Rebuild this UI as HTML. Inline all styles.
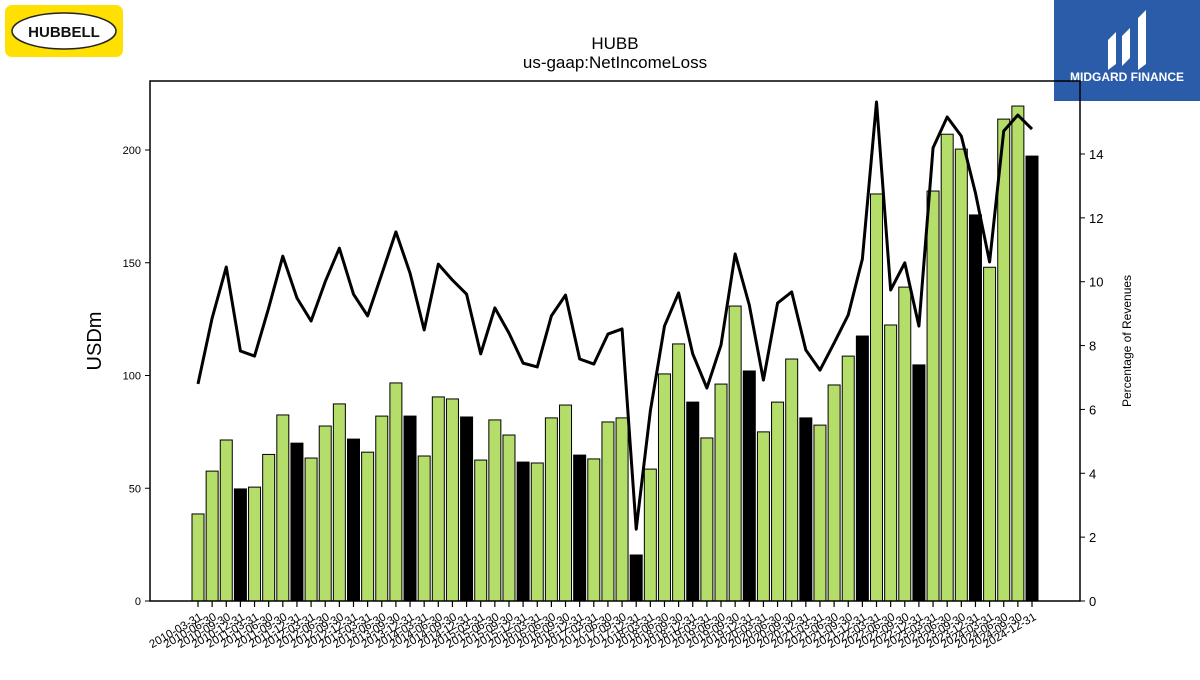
<!DOCTYPE html>
<html><head><meta charset="utf-8"><style>
body{margin:0;background:#fff;width:1200px;height:675px;overflow:hidden;font-family:"Liberation Sans","DejaVu Sans",sans-serif}
</style></head><body>
<svg id="chart" width="1200" height="675" xmlns="http://www.w3.org/2000/svg" font-family="Liberation Sans, DejaVu Sans, sans-serif">
<g>
<rect x="5" y="5" width="118" height="52" rx="7" fill="#ffe000"/>
<ellipse cx="64" cy="31" rx="52" ry="18" fill="#fff" stroke="#222" stroke-width="1.5"/>
<text x="64" y="37" text-anchor="middle" font-size="15" font-weight="bold" fill="#111">HUBBELL</text>
</g>
<g>
<rect x="1054" y="0" width="146" height="101" fill="#2a5caa"/>
<path d="M1108 70 L1108 40 L1116 32 L1116 64 Z M1122 66 L1122 36 L1130 28 L1130 58 Z M1138 70 L1138 18 L1146 10 L1146 64 Z" fill="#fff"/>
<text x="1127" y="81" text-anchor="middle" font-size="12" font-weight="bold" fill="#fff">MIDGARD FINANCE</text>
</g>
<text x="615" y="49" text-anchor="middle" font-size="17">HUBB</text>
<text x="615" y="68" text-anchor="middle" font-size="17">us-gaap:NetIncomeLoss</text>
<text transform="translate(101,341) rotate(-90)" text-anchor="middle" font-size="20">USDm</text>
<text transform="translate(1131,341) rotate(-90)" text-anchor="middle" font-size="12">Percentage of Revenues</text>
<g id="bars"></g><g id="line"></g><g id="axes"></g>
</svg>
<script>
const categories=[];for(let y=2010;y<=2024;y++){for(const q of ["03-31","06-30","09-30","12-31"])categories.push(y+"-"+q);}
const netIncome=[38.6,57.6,71.4,49.7,50.5,65,82.5,70,63.4,77.6,87.4,71.8,66,82,96.7,82,64.3,90.5,89.6,81.6,62.5,80.3,73.6,61.6,61.2,81.2,86.9,64.7,63,79.4,81.2,20.4,58.5,100.7,114,88.2,72.3,96.2,130.8,102,75,88.2,107.3,81.2,78,95.8,108.6,117.5,180.5,122.4,139.2,104.7,181.8,207,200.4,171.2,148,213.7,219.5,197.3];
const pctRevenue=[6.8,8.86,10.46,7.83,7.67,9.18,10.8,9.49,8.77,10,11.05,9.61,8.93,10.24,11.56,10.27,8.49,10.55,10.05,9.61,7.74,9.18,8.39,7.45,7.33,8.93,9.58,7.58,7.42,8.36,8.52,2.25,5.95,8.61,9.65,7.74,6.67,8.02,10.87,9.27,6.92,9.33,9.68,7.86,7.23,8.08,8.96,10.71,15.63,9.74,10.59,8.61,14.19,15.16,14.56,12.78,10.62,14.72,15.22,14.78];
const leftTicks=[0,50,100,150,200];
const rightTicks=[0,2,4,6,8,10,12,14];
const NS="http://www.w3.org/2000/svg";
const L=150,R=1080,T=81,B=601;
const yL=v=>B-v*(451/200);
const yR=v=>B-v*(447/14);
const xS=i=>198+i*(834/(categories.length-1));
function mk(tag,attrs,parent){const e=document.createElementNS(NS,tag);for(const k in attrs)e.setAttribute(k,attrs[k]);parent.appendChild(e);return e;}
const bars=document.getElementById('bars'),line=document.getElementById('line'),axes=document.getElementById('axes');
const bw=12;
netIncome.forEach((v,i)=>{
 const r=mk('rect',{x:xS(i)-bw/2,y:yL(v),width:bw,height:B-yL(v),fill:categories[i].endsWith('12-31')?'#000':'#b5dd6a',stroke:'#000','stroke-width':1},bars);
 
 
});
const pl=mk('polyline',{points:pctRevenue.map((v,i)=>xS(i)+','+yR(v)).join(' '),fill:'none',stroke:'#000','stroke-width':3,'stroke-linejoin':'round'},line);


const fr=mk('rect',{x:L,y:T,width:R-L,height:B-T,fill:'none',stroke:'#000','stroke-width':1.5},axes);


leftTicks.forEach(t=>{
 mk('line',{x1:L-5,x2:L,y1:yL(t),y2:yL(t),stroke:'#000'},axes);
 const tx=mk('text',{x:L-9,y:yL(t)+4,'text-anchor':'end','font-size':11},axes);tx.textContent=t;
 
 
});
rightTicks.forEach(t=>{
 mk('line',{x1:R,x2:R+5,y1:yR(t),y2:yR(t),stroke:'#000'},axes);
 const tx=mk('text',{x:R+9,y:yR(t)+5,'font-size':13},axes);tx.textContent=t;
 
 
});
categories.forEach((c,i)=>{
 mk('line',{x1:xS(i),x2:xS(i),y1:B,y2:B+6,stroke:'#000','stroke-width':1.2},axes);
 const tx=mk('text',{transform:`translate(${xS(i)+5},${B+18}) rotate(-30)`,'text-anchor':'end','font-size':11.5},axes);tx.textContent=c;
 
 
});
</script>
</body></html>
